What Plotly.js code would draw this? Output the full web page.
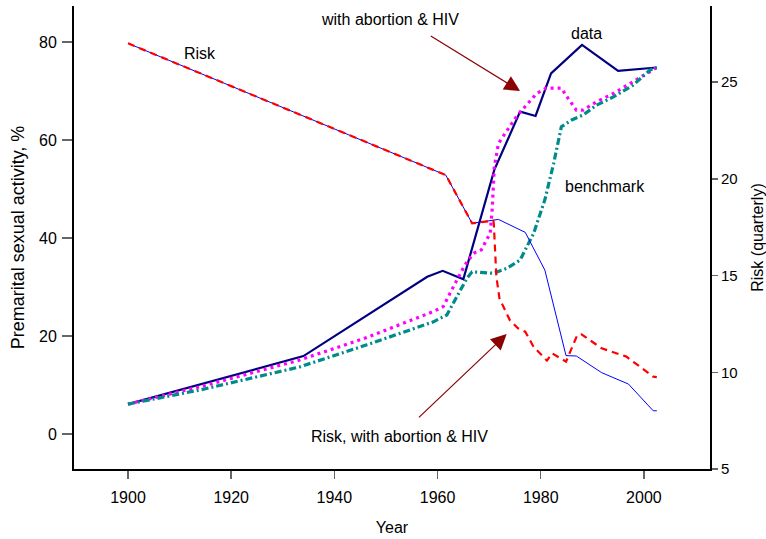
<!DOCTYPE html>
<html>
<head>
<meta charset="utf-8">
<script src="https://cdn.plot.ly/plotly-3.0.1.min.js"></script>
<style>html,body{margin:0;padding:0;background:#fff;}#chart{width:766px;height:539px;}</style>
</head>
<body>
<div id="chart"></div>
<script>
// Premarital sexual activity, % (left axis)
var dataYears   = [1900, 1934, 1958, 1961, 1965, 1971, 1976, 1979, 1982, 1988, 1995, 2002.5];
var dataValues  = [6.1, 15.9, 32.1, 33.3, 31.6, 53.9, 65.8, 64.9, 73.6, 79.4, 74.1, 74.8];

var abHivYears  = [1900, 1914, 1933.3, 1946.3, 1959.2, 1961.1, 1962.4, 1965.3, 1967, 1968.5, 1970.2, 1970.6, 1971, 1971.8, 1975.3, 1979.2, 1981.1, 1984, 1985.3, 1986.9, 1988.2, 1990.8, 1994.1, 1997.9, 2002.5];
var abHivValues = [6.1, 9.65, 15.1, 19.7, 25.0, 26.0, 28.7, 34.5, 36.9, 37.6, 41.0, 46.0, 54.5, 59.3, 64.8, 69.5, 70.6, 70.6, 68.5, 66.1, 66.1, 67.8, 69.5, 71.9, 74.8];

var benchYears  = [1900, 1914, 1933.3, 1946.3, 1959.2, 1961.8, 1963.1, 1965.7, 1966.7, 1970.8, 1973.4, 1976, 1978.6, 1980.8, 1982.5, 1984, 1986, 1988.2, 1990.8, 1994.1, 1997.9, 2001.2, 2002.5];
var benchValues = [6.1, 9.0, 13.7, 18.2, 22.9, 24.3, 26.8, 31.8, 33.1, 32.8, 33.8, 35.5, 40.9, 47.8, 55.2, 62.7, 64.1, 65.1, 67.1, 68.8, 71.2, 74.3, 74.8];

// Risk (quarterly) (right axis)
var riskYears   = [1900, 1961.6, 1966.7, 1970.8, 1971.8, 1977, 1980.8, 1984.9, 1986.9, 1991.8, 1997, 2001.8, 2002.5];
var riskValues  = [27.0, 20.19, 17.7, 17.83, 17.9, 17.23, 15.28, 10.86, 10.84, 9.98, 9.39, 8.01, 8.01];

var riskAbYears  = [1900, 1961.6, 1966.7, 1970.8, 1970.9, 1971.4, 1972, 1974, 1975.6, 1977, 1978.6, 1981.2, 1982.2, 1984.9, 1987.1, 1987.9, 1991.8, 1996.6, 2001.8, 2002.5];
var riskAbValues = [27.0, 20.19, 17.7, 17.83, 17.7, 14.94, 13.82, 12.7, 12.27, 12.1, 11.32, 10.6, 10.98, 10.55, 11.93, 11.96, 11.24, 10.81, 9.77, 9.75];

var xTicks = [1900, 1920, 1940, 1960, 1980, 2000];
var yTicks = [0, 20, 40, 60, 80];
var y2Ticks = [5, 10, 15, 20, 25];

var FONT = 'Liberation Sans, Arial, sans-serif';

var traces = [
  {x: dataYears, y: dataValues, type: 'scatter', mode: 'lines', name: 'data',
   line: {color: '#000080', width: 2.2}},
  {x: abHivYears, y: abHivValues, type: 'scatter', mode: 'lines', name: 'with abortion & HIV',
   line: {color: '#FF00FF', width: 3.2, dash: '3px,4px'}},
  {x: benchYears, y: benchValues, type: 'scatter', mode: 'lines', name: 'benchmark',
   line: {color: '#008B8B', width: 3.2, dash: '7px,3px,2px,3px'}},
  {x: riskYears, y: riskValues, type: 'scatter', mode: 'lines', name: 'Risk', yaxis: 'y2',
   line: {color: '#0000FF', width: 1}},
  {x: riskAbYears, y: riskAbValues, type: 'scatter', mode: 'lines', name: 'Risk, with abortion & HIV', yaxis: 'y2',
   line: {color: '#FF0000', width: 2.2, dash: '7px,5px'}}
];

function label(text, x, y) {
  return {text: text, x: x, y: y, xref: 'x', yref: 'y', showarrow: false,
          font: {family: FONT, size: 16, color: '#000'}, xanchor: 'center', yanchor: 'middle'};
}
function arrow(hx, hy, tx, ty) {
  return {text: '', x: hx, y: hy, xref: 'x', yref: 'y', ax: tx, ay: ty, axref: 'x', ayref: 'y',
          showarrow: true, arrowhead: 2, arrowsize: 2.6, arrowwidth: 1.2, arrowcolor: '#8B0000', standoff: 0, startstandoff: 0};
}

var layout = {
  width: 766, height: 539,
  margin: {l: 74, r: 56, t: 6, b: 70},
  paper_bgcolor: '#fff', plot_bgcolor: '#fff',
  showlegend: false,
  font: {family: FONT, size: 16, color: '#000'},
  xaxis: {
    range: [1889.53, 2012.81], tickvals: xTicks, ticktext: xTicks.map(String),
    showgrid: false, zeroline: false, showline: true, linecolor: '#000', linewidth: 2,
    ticks: 'outside', ticklen: 8, tickcolor: '#666', tickwidth: 1.5, ticklabelstandoff: 5,
    tickfont: {family: FONT, size: 16, color: '#000'},
    title: {text: 'Year', font: {family: FONT, size: 16, color: '#000'}, standoff: 17}
  },
  yaxis: {
    range: [-7.14, 87.35], tickvals: yTicks, ticktext: yTicks.map(String),
    showgrid: false, zeroline: false, showline: true, linecolor: '#000', linewidth: 2,
    ticks: 'outside', ticklen: 10, tickcolor: '#666', tickwidth: 1.5, ticklabelstandoff: 2,
    tickfont: {family: FONT, size: 16, color: '#000'},
    title: {text: 'Premarital sexual activity, %', font: {family: FONT, size: 18, color: '#000'}, standoff: 10}
  },
  yaxis2: {
    overlaying: 'y', side: 'right',
    range: [5, 28.93], tickvals: y2Ticks, ticktext: y2Ticks.map(String),
    showgrid: false, zeroline: false, showline: true, linecolor: '#000', linewidth: 2,
    ticks: 'outside', ticklen: 6, tickcolor: '#666', tickwidth: 1.5,
    tickfont: {family: FONT, size: 15, color: '#000'},
    title: {text: 'Risk (quarterly)', font: {family: FONT, size: 16, color: '#000'}, standoff: 16}
  },
  annotations: [
    label('with abortion & HIV', 1950.8, 84.5),
    label('Risk', 1914, 77.6),
    label('data', 1988.8, 81.8),
    label('benchmark', 1992.5, 50.6),
    label('Risk, with abortion & HIV', 1952.7, -0.6),
    arrow(1976.0, 70.0, 1958.4, 81.4),
    arrow(1973.4, 20.4, 1956.1, 3.1)
  ]
};

Plotly.newPlot('chart', traces, layout, {displayModeBar: false, staticPlot: true});
</script>
</body>
</html>
